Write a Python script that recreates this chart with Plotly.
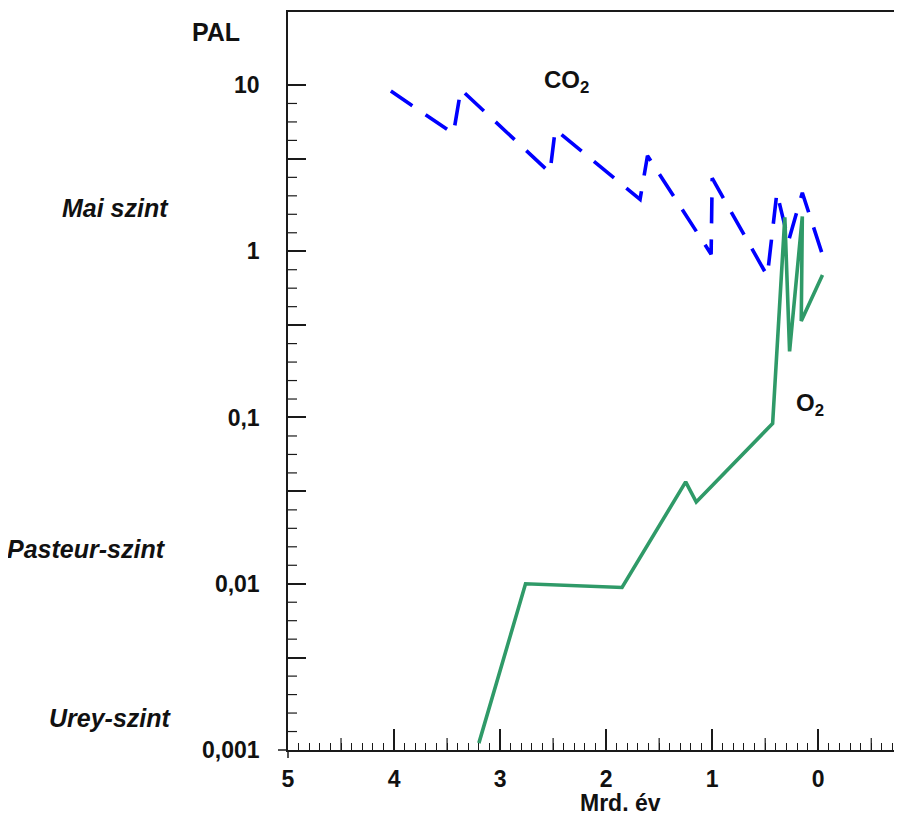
import math
import plotly.graph_objects as go

# ---- data ----
co2_age = [4.03, 3.44, 3.37, 2.53, 2.48, 1.68, 1.61, 1.01, 1.00, 0.48, 0.39, 0.28, 0.15, -0.05]
co2_pal = [9.2, 5.1, 9.4, 2.97, 5.4, 2.05, 3.75, 0.96, 2.75, 0.71, 2.25, 1.15, 2.25, 0.91]

o2_age = [3.20, 2.76, 1.85, 1.25, 1.15, 0.43, 0.315, 0.27, 0.15, 0.16, -0.04]
o2_pal = [0.0011, 0.010, 0.0095, 0.041, 0.031, 0.092, 1.6, 0.25, 1.62, 0.38, 0.72]

x_ticks = [5, 4, 3, 2, 1, 0]
x_ticktext = ["5", "4", "3", "2", "1", "0"]
x_half_ticks = [4.5, 3.5, 2.5, 1.5, 0.5, -0.5]
y_decades = [0.001, 0.01, 0.1, 1, 10]
y_ticktext = ["0,001", "0,01", "0,1", "1", "10"]

# The page body has an 8px margin, so the figure is 8px smaller and
# all page coordinates below are converted with that offset.
OFF = 8
W, H = 902 - OFF, 816 - OFF
L, R, T, B = 288 - OFF, 0, 12 - OFF, 66
PW, PH = W - L - R, H - T - B

FONT = "Liberation Sans, Arial, Helvetica, sans-serif"
AX = "#1a1a1a"
X_RANGE = [5, -0.79]
Y_RANGE = [-3, 1.439]

X_PER_PX = (X_RANGE[0] - X_RANGE[1]) / PW
LOG_PER_PX = (Y_RANGE[1] - Y_RANGE[0]) / PH


def px(xp, yp):
    """page pixel -> paper coords"""
    return (xp - 288) / PW, (750 - yp) / PH


# y ticks: decades (labelled) + 5/9 positions are long axis ticks,
# the other ninth-of-a-decade positions are short ticks
y_major_vals = list(y_decades)
y_major_text = list(y_ticktext)
y_minor_vals = []
for d in range(-3, 1):
    for k in range(1, 9):
        v = 10 ** (d + k / 9)
        if k == 5:
            y_major_vals.append(v)
            y_major_text.append("")
        else:
            y_minor_vals.append(v)

fig = go.Figure()

fig.add_trace(go.Scatter(
    x=co2_age, y=co2_pal, mode="lines",
    line=dict(color="#0000ff", width=3.6, dash="26px,16px"),
    showlegend=False, hoverinfo="skip"))

fig.add_trace(go.Scatter(
    x=o2_age, y=o2_pal, mode="lines",
    line=dict(color="#2f9a68", width=3.6),
    showlegend=False, hoverinfo="skip"))

# short y tick marks (9 px, pointing into the plot) as line segments
tx, ty = [], []
for v in y_minor_vals:
    tx += [X_RANGE[0], X_RANGE[0] - 9 * X_PER_PX, None]
    ty += [v, v, None]
fig.add_trace(go.Scatter(x=tx, y=ty, mode="lines",
                         line=dict(color=AX, width=1.2),
                         showlegend=False, hoverinfo="skip"))

# half-unit x tick marks (12 px, pointing up)
hx, hy = [], []
y_bottom = 10 ** Y_RANGE[0]
y_top = 10 ** (Y_RANGE[0] + 12 * LOG_PER_PX)
for v in x_half_ticks:
    hx += [v, v, None]
    hy += [y_bottom, y_top, None]
fig.add_trace(go.Scatter(x=hx, y=hy, mode="lines",
                         line=dict(color=AX, width=1.2),
                         showlegend=False, hoverinfo="skip"))

tickfont = dict(family=FONT, size=23, color="#111", weight="bold")

fig.update_layout(
    width=W, height=H,
    margin=dict(l=L, r=R, t=T, b=B, pad=0),
    plot_bgcolor="white", paper_bgcolor="white",
    xaxis=dict(
        range=X_RANGE, showgrid=False, zeroline=False,
        showline=True, linecolor=AX, linewidth=1.5, mirror=True,
        tickmode="array", tickvals=x_ticks, ticktext=x_ticktext,
        ticks="inside", ticklen=21, tickwidth=1.5, tickcolor=AX,
        tickfont=tickfont, ticklabelstandoff=8,
        minor=dict(tickmode="linear", tick0=0, dtick=0.1,
                   ticks="inside", ticklen=7, tickwidth=1, tickcolor=AX,
                   showgrid=False),
    ),
    yaxis=dict(
        type="log", range=Y_RANGE, showgrid=False, zeroline=False,
        showline=True, linecolor=AX, linewidth=1.5,
        tickmode="array", tickvals=y_major_vals, ticktext=y_major_text,
        ticks="inside", ticklen=18, tickwidth=1.5, tickcolor=AX,
        tickfont=tickfont, ticklabelstandoff=22,
    ),
)

# small outward stubs at the axis corner
x0, y0 = px(278, 750)
x1, y1 = px(288, 750)
fig.add_shape(type="line", xref="paper", yref="paper", x0=x0, y0=y0, x1=x1, y1=y1,
              line=dict(color=AX, width=1.5))
x0, y0 = px(288, 750)
x1, y1 = px(288, 758)
fig.add_shape(type="line", xref="paper", yref="paper", x0=x0, y0=y0, x1=x1, y1=y1,
              line=dict(color=AX, width=1.5))


def note(text, xp, yp, xanchor="center", italic=False, size=23):
    ax, ay = px(xp, yp)
    fig.add_annotation(
        text=text, x=ax, y=ay, xref="paper", yref="paper",
        xanchor=xanchor, yanchor="middle", showarrow=False,
        font=dict(family=FONT, size=size, color="#111", weight="bold",
                  style="italic" if italic else "normal"))


note("PAL", 216, 32, size=25)
note("CO<sub>2</sub>", 542, 82, xanchor="left", size=24)
note("O<sub>2</sub>", 794, 405, xanchor="left", size=24)
note("Mai szint", 171, 208, xanchor="right", italic=True, size=25)
note("Pasteur-szint", 168, 549, xanchor="right", italic=True, size=25)
note("Urey-szint", 174, 718, xanchor="right", italic=True, size=25)
note("Mrd. év", 620, 803, size=23)

fig.write_html("out.html")
